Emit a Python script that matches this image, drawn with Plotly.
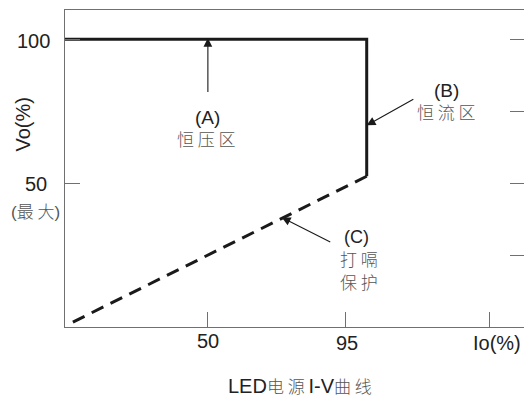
import plotly.graph_objects as go

# ---- data ----
cv_io = [3.4, 101.8, 101.8]          # constant-voltage / constant-current segment (solid)
cv_vo = [100, 100, 52.4]
hic_io = [101.8, 5.0]                # hiccup protection line (dashed)
hic_vo = [52.4, 1.2]
x_ticks = [50, 95, 141.9]
x_tick_labels = ["50", "95", "Io(%)"]
y_ticks = [50, 100]
y_tick_labels = ["50", "100"]
right_ticks = [25, 50, 75, 100]

LAT = "Liberation Sans Narrow, Arial Narrow, Liberation Sans, Arial, sans-serif"
CJK = "Noto Sans CJK SC Light, Noto Sans CJK SC, sans-serif"
DARK = "#222222"
GRAY = "#555555"
AX = "#707070"

fig = go.Figure()
fig.add_trace(go.Scatter(x=cv_io, y=cv_vo, mode="lines",
                         line=dict(color="#1a1a1a", width=3), showlegend=False,
                         hoverinfo="skip"))
fig.add_trace(go.Scatter(x=hic_io, y=hic_vo, mode="lines",
                         line=dict(color="#1a1a1a", width=3, dash="13px,8px"),
                         showlegend=False, hoverinfo="skip"))
# invisible trace for right tick axis
fig.add_trace(go.Scatter(x=[60], y=[50], yaxis="y2", mode="markers",
                         marker=dict(opacity=0), showlegend=False, hoverinfo="skip"))

fig.update_layout(
    width=524, height=398,
    margin=dict(l=65, r=0, t=10, b=71),
    paper_bgcolor="white", plot_bgcolor="white",
    xaxis=dict(range=[3.4, 153.1], showgrid=False, zeroline=False,
               showline=True, linecolor=AX, linewidth=1.2, mirror=True,
               ticks="inside", ticklen=15, tickcolor=AX, tickwidth=1.2,
               tickvals=x_ticks, showticklabels=False),
    yaxis=dict(range=[0, 110.2], showgrid=False, zeroline=False,
               showline=True, linecolor=AX, linewidth=1.2,
               ticks="inside", ticklen=15, tickcolor=AX, tickwidth=1.2,
               tickvals=y_ticks, showticklabels=False),
    yaxis2=dict(range=[0, 110.2], overlaying="y", side="right", showgrid=False,
                zeroline=False, showline=False, ticks="inside", ticklen=14,
                tickcolor=AX, tickwidth=1.2, tickvals=right_ticks,
                showticklabels=False),
)

NUM = 20
ann = []
# x tick labels
x_label_pos = [(208.5, 341), (347, 343), (497, 343)]
for (cx, cy), t in zip(x_label_pos, x_tick_labels):
    ann.append(dict(xref="x", yref="paper", x=(cx - 54.7) / 3.0667, y=0,
                    yshift=-(cy - 327), xanchor="center", yanchor="middle",
                    text=t, showarrow=False, font=dict(family=LAT, size=NUM, color=DARK)))
# y tick labels
ann.append(dict(xref="paper", yref="y", x=0, xshift=-32, y=100, yshift=-2,
                xanchor="center", yanchor="middle", text=y_tick_labels[1],
                showarrow=False, font=dict(family=LAT, size=NUM, color=DARK)))
ann.append(dict(xref="paper", yref="y", x=0, xshift=-29, y=50, yshift=-1,
                xanchor="center", yanchor="middle", text=y_tick_labels[0],
                showarrow=False, font=dict(family=LAT, size=NUM, color=DARK)))
ann.append(dict(xref="paper", yref="y", x=0, xshift=-30, y=40.5,
                xanchor="center", yanchor="middle",
                text="(<span style='font-family:" + CJK + "'>最 大</span>)",
                showarrow=False, font=dict(family=LAT, size=17, color=GRAY)))
# axis title
ann.append(dict(xref="paper", yref="y", x=0, xshift=-42, y=70.4,
                xanchor="center", yanchor="middle", text="Vo(%)", textangle=-90,
                showarrow=False, font=dict(family=LAT, size=20, color=DARK)))
# chart title
ann.append(dict(xref="paper", yref="paper", x=(300 - 65) / 459, y=0, yshift=-58,
                xanchor="center", yanchor="middle", borderpad=0,
                text="LED<span style='font-family:" + CJK + ";font-size:17px;color:#555'>电 源 </span>I-V<span style='font-family:" + CJK + ";font-size:17px;color:#555'>曲 线</span>",
                showarrow=False, font=dict(family=LAT, size=20, color=DARK)))

# region labels
def lbl(x, y, t, fam, size, col):
    ann.append(dict(xref="x", yref="y", x=x, y=y, text=t, showarrow=False,
                    xanchor="center", yanchor="middle", borderpad=0,
                    font=dict(family=fam, size=size, color=col)))

lbl(50, 72.9, "(A)", LAT, 19, DARK)
lbl(49.5, 65.6, "恒 压 区", CJK, 17, GRAY)
lbl(127.9, 82.3, "(B)", LAT, 19, DARK)
lbl(127.9, 74.9, "恒 流 区", CJK, 17, GRAY)
lbl(98.6, 31.4, "(C)", LAT, 18, DARK)
lbl(99.2, 23.9, "打 嗝", CJK, 17, GRAY)
lbl(99.2, 15.8, "保 护", CJK, 17, GRAY)

# arrows
def arrow(x, y, ax, ay):
    ann.append(dict(xref="x", yref="y", axref="x", ayref="y", x=x, y=y, ax=ax, ay=ay,
                    text="", showarrow=True, arrowhead=2, arrowsize=1.6,
                    arrowwidth=1.1, arrowcolor="#1a1a1a", standoff=0))

arrow(50, 100.5, 50, 81.2)
arrow(101.8, 70.1, 117.5, 79.5)
arrow(74.1, 38.1, 90.4, 29.3)

fig.update_layout(annotations=ann)
fig.write_html("out.html", config={"displayModeBar": False})

# remove the browser's default body margin so the figure fills the window
with open("out.html", encoding="utf-8") as f:
    html = f.read()
html = html.replace("<head>", "<head><style>html,body{margin:0;padding:0;overflow:hidden;}</style>", 1)
with open("out.html", "w", encoding="utf-8") as f:
    f.write(html)
